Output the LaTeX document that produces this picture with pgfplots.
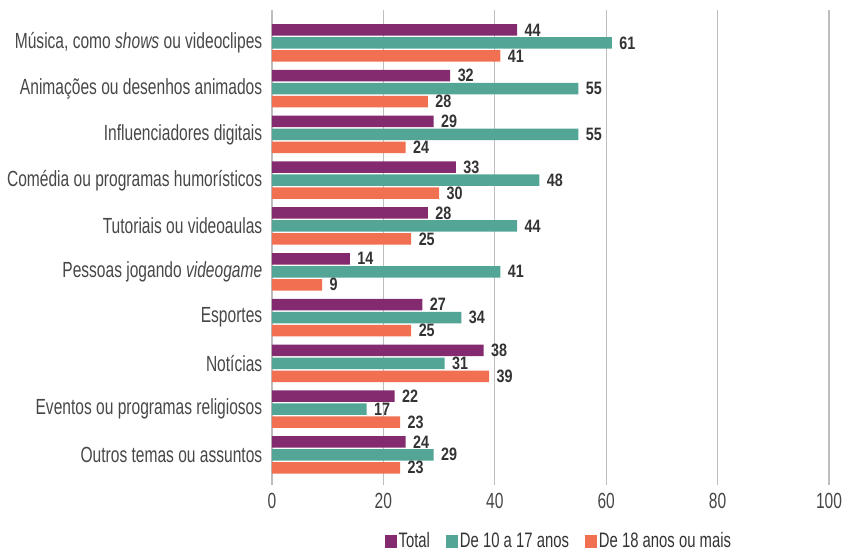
\documentclass[border=0pt]{standalone}
\usepackage{fontspec}
\setmainfont[FakeStretch=0.71]{Liberation Sans}
\newfontfamily\valfont[FakeStretch=0.8]{Liberation Sans}
\usepackage{pgfplots}
\usepackage{pgfplotstable}
\pgfplotsset{compat=1.18}
\definecolor{cTot}{HTML}{842B6F}
\definecolor{cYoung}{HTML}{53A696}
\definecolor{cOld}{HTML}{F27052}
\definecolor{gridc}{HTML}{BDBDBD}
\definecolor{txt}{HTML}{333333}
\pgfplotstableread{
y tot young old
9 44 61 41
8 32 55 28
7 29 55 24
6 33 48 30
5 28 44 25
4 14 41 9
3 27 34 25
2 38 31 39
1 22 17 23
0 24 29 23
}\data
\begin{document}
\begin{tikzpicture}
\begin{axis}[
  scale only axis,
  width=557bp, height=475bp,
  xmin=0, xmax=100,
  ymin=-0.66, ymax=9.72,
  xbar, bar width=11.5bp,
  xtick={0,20,...,100},
  ytick={0,...,9},
  yticklabels={Outros temas ou assuntos,Eventos ou programas religiosos,Notícias,Esportes,{Pessoas jogando \textit{videogame}},Tutoriais ou videoaulas,Comédia ou programas humorísticos,Influenciadores digitais,Animações ou desenhos animados,{Música, como \textit{shows} ou videoclipes}},
  /pgf/number format/assume math mode=true,
  tick style={draw=none},
  xmajorgrids, major grid style={gridc, line width=1.2bp},
  axis lines*=left,
  x axis line style={draw=none},
  y axis line style={gridc, line width=1.2bp},
  ticklabel style={font=\fontsize{22}{23}\selectfont, text=txt!90},
  xticklabel style={yshift=-5bp},
  yticklabel style={xshift=-2bp},
  legend style={at={(axis description cs:0.515,0)}, anchor=center, yshift=-56bp, draw=none, fill=none,
     legend columns=3, font=\fontsize{21}{22}\selectfont, text=txt, inner sep=1bp,
     /tikz/every even column/.append style={column sep=14bp}},
  legend image code/.code={\fill[#1] (0bp,-6.5bp) rectangle (12bp,6.5bp);},
  nodes near coords,
  nodes near coords style={anchor=west, xshift=4bp, text=txt, font=\valfont\bfseries\fontsize{18}{19}\selectfont},
]
\addplot[fill=cTot, draw=none, bar shift=13bp] table[x=tot, y=y] {\data};
\addplot[fill=cYoung, draw=none, bar shift=0bp] table[x=young, y=y] {\data};
\addplot[fill=cOld, draw=none, bar shift=-13bp] table[x=old, y=y] {\data};
\legend{Total, De 10 a 17 anos, De 18 anos ou mais}
\end{axis}
\pgfresetboundingbox
\path[use as bounding box] (-272bp,-70bp) rectangle (577bp,485bp);
\end{tikzpicture}
\end{document}
